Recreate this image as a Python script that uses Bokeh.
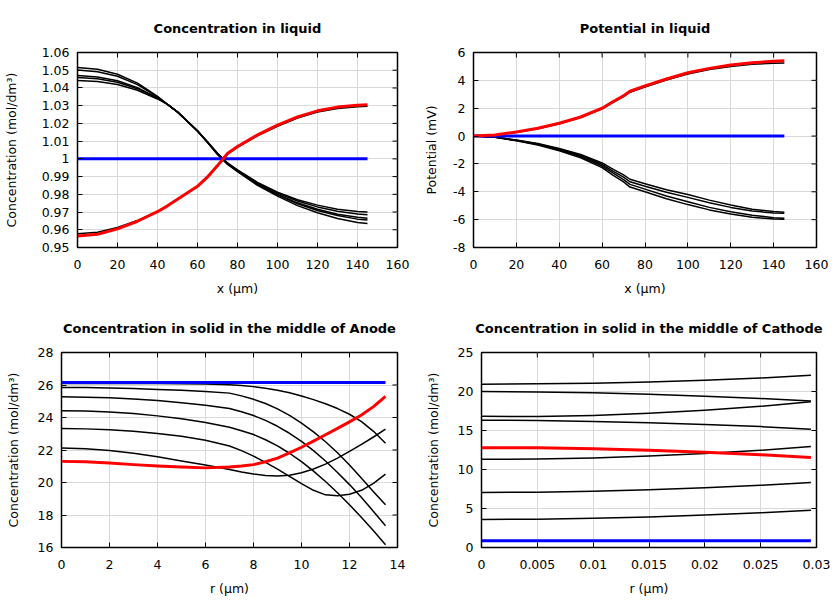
import math
from bokeh.plotting import figure
from bokeh.models import Range1d, FixedTicker, CustomJSTickFormatter
from bokeh.layouts import column, row
from bokeh.embed import file_html
from bokeh.resources import INLINE

FONT = "DejaVu Sans"

# ---------------- Plot 1: Concentration in liquid ----------------
liq_x = [0, 10, 20, 30, 40, 45, 50, 60, 65, 70, 75, 80, 90, 100, 110, 120, 130, 140, 145]
liq_c1 = [1.0515, 1.0505, 1.0477, 1.0427, 1.0353, 1.0307, 1.0264, 1.0156, 1.0092, 1.0025, 0.9969, 0.9928, 0.9850, 0.9790, 0.9736, 0.9696, 0.9664, 0.9641, 0.9635]
liq_c2 = [1.0501, 1.0492, 1.0466, 1.0419, 1.0350, 1.0307, 1.0264, 1.0157, 1.0093, 1.0027, 0.9972, 0.9931, 0.9855, 0.9797, 0.9747, 0.9709, 0.9680, 0.9660, 0.9655]
liq_c3 = [1.0470, 1.0462, 1.0441, 1.0402, 1.0344, 1.0307, 1.0265, 1.0157, 1.0094, 1.0028, 0.9973, 0.9932, 0.9858, 0.9800, 0.9752, 0.9716, 0.9688, 0.9670, 0.9665]
liq_c4 = [1.0459, 1.0452, 1.0432, 1.0396, 1.0342, 1.0307, 1.0265, 1.0158, 1.0095, 1.0030, 0.9975, 0.9935, 0.9863, 0.9807, 0.9762, 0.9729, 0.9704, 0.9689, 0.9685]
liq_c5 = [1.0442, 1.0436, 1.0419, 1.0387, 1.0338, 1.0307, 1.0265, 1.0159, 1.0096, 1.0032, 0.9977, 0.9938, 0.9867, 0.9812, 0.9769, 0.9739, 0.9716, 0.9703, 0.9700]
liq_c6 = [0.9577, 0.9586, 0.9613, 0.9652, 0.9704, 0.9736, 0.9771, 0.9843, 0.9895, 0.9958, 1.0026, 1.0065, 1.0130, 1.0184, 1.0230, 1.0264, 1.0284, 1.0294, 1.0297]
liq_final = [0.9565, 0.9575, 0.9605, 0.9648, 0.9702, 0.9735, 0.9772, 0.9845, 0.9898, 0.9962, 1.0030, 1.0070, 1.0135, 1.0190, 1.0237, 1.0271, 1.0292, 1.0302, 1.0305]
liq_init_x = [0, 145]
liq_init = [1.0, 1.0]
liq_xticks = [0, 20, 40, 60, 80, 100, 120, 140, 160]
liq_yticks = [0.95, 0.96, 0.97, 0.98, 0.99, 1.0, 1.01, 1.02, 1.03, 1.04, 1.05, 1.06]

# ---------------- Plot 2: Potential in liquid ----------------
pot_x = [0, 10, 20, 30, 40, 50, 60, 65, 70, 73, 80, 90, 100, 110, 120, 130, 140, 145]
pot_up = [0, 0.06, 0.28, 0.53, 0.88, 1.33, 1.95, 2.40, 2.84, 3.15, 3.52, 4.02, 4.46, 4.77, 5.00, 5.15, 5.23, 5.25]
pot_a = [0, -0.07, -0.29, -0.54, -0.89, -1.32, -1.93, -2.37, -2.79, -3.10, -3.42, -3.85, -4.20, -4.60, -4.95, -5.25, -5.42, -5.47]
pot_b = [0, -0.07, -0.30, -0.57, -0.94, -1.39, -2.04, -2.51, -2.95, -3.28, -3.60, -4.03, -4.40, -4.78, -5.12, -5.38, -5.52, -5.55]
pot_c = [0, -0.08, -0.32, -0.60, -0.99, -1.47, -2.15, -2.65, -3.12, -3.47, -3.81, -4.30, -4.72, -5.12, -5.43, -5.68, -5.86, -5.90]
pot_d = [0, -0.08, -0.34, -0.64, -1.05, -1.56, -2.27, -2.80, -3.29, -3.66, -4.00, -4.50, -4.92, -5.30, -5.60, -5.82, -5.95, -5.98]
pot_final = [0, 0.07, 0.30, 0.56, 0.92, 1.37, 2.00, 2.46, 2.90, 3.22, 3.60, 4.10, 4.55, 4.86, 5.10, 5.27, 5.37, 5.40]
pot_init_x = [0, 145]
pot_init = [0.0, 0.0]
pot_xticks = [0, 20, 40, 60, 80, 100, 120, 140, 160]
pot_yticks = [-8, -6, -4, -2, 0, 2, 4, 6]

# ---------------- Plot 3: Solid, anode ----------------
an_r = [0, 1, 2, 3, 4, 5, 6, 7, 7.5, 8, 8.5, 9, 9.5, 10, 10.5, 11, 11.5, 12, 12.5, 13, 13.5]
an_k1 = [26.10, 26.10, 26.10, 26.10, 26.09, 26.08, 26.06, 26.02, 25.97, 25.90, 25.80, 25.68, 25.52, 25.32, 25.10, 24.85, 24.55, 24.20, 23.75, 23.15, 22.42]
an_k2 = [25.85, 25.84, 25.82, 25.78, 25.73, 25.67, 25.60, 25.50, 25.33, 25.12, 24.86, 24.53, 24.13, 23.66, 23.12, 22.51, 21.83, 21.08, 20.26, 19.43, 18.63]
an_k3 = [25.27, 25.25, 25.21, 25.14, 25.04, 24.91, 24.75, 24.55, 24.35, 24.12, 23.82, 23.46, 23.03, 22.53, 21.96, 21.32, 20.62, 19.87, 19.07, 18.22, 17.34]
an_k4 = [24.42, 24.40, 24.34, 24.24, 24.10, 23.92, 23.69, 23.40, 23.19, 22.95, 22.63, 22.25, 21.80, 21.28, 20.70, 20.06, 19.37, 18.63, 17.85, 17.03, 16.17]
an_k5 = [23.32, 23.30, 23.24, 23.15, 23.02, 22.85, 22.60, 22.25, 21.96, 21.62, 21.24, 20.82, 20.38, 19.93, 19.52, 19.24, 19.18, 19.28, 19.52, 19.95, 20.52]
an_k6 = [22.12, 22.08, 21.97, 21.80, 21.58, 21.33, 21.07, 20.80, 20.65, 20.52, 20.43, 20.40, 20.45, 20.60, 20.83, 21.13, 21.50, 21.92, 22.35, 22.80, 23.28]
an_final = [21.30, 21.27, 21.20, 21.10, 21.02, 20.95, 20.90, 20.95, 21.01, 21.10, 21.28, 21.50, 21.82, 22.17, 22.55, 22.94, 23.33, 23.73, 24.15, 24.67, 25.30]
an_init_r = [0, 13.5]
an_init = [26.15, 26.15]
an_xticks = [0, 2, 4, 6, 8, 10, 12, 14]
an_yticks = [16, 18, 20, 22, 24, 26, 28]

# ---------------- Plot 4: Solid, cathode ----------------
ca_r = [0, 0.005, 0.01, 0.015, 0.02, 0.025, 0.0295]
ca_k1 = [20.94, 20.98, 21.07, 21.22, 21.44, 21.73, 22.09]
ca_k2 = [19.99, 19.95, 19.84, 19.65, 19.40, 19.10, 18.78]
ca_k3 = [16.82, 16.79, 16.93, 17.20, 17.60, 18.10, 18.68]
ca_k4 = [16.32, 16.28, 16.15, 15.98, 15.77, 15.50, 15.17]
ca_k5 = [11.30, 11.35, 11.48, 11.72, 12.05, 12.46, 12.95]
ca_k6 = [7.05, 7.09, 7.20, 7.39, 7.65, 7.97, 8.33]
ca_k7 = [3.59, 3.63, 3.74, 3.92, 4.17, 4.46, 4.79]
ca_final = [12.80, 12.79, 12.67, 12.46, 12.20, 11.89, 11.54]
ca_init_r = [0, 0.0295]
ca_init = [0.85, 0.85]
ca_xticks = [0, 0.005, 0.01, 0.015, 0.02, 0.025, 0.03]
ca_yticks = [0, 5, 10, 15, 20, 25]

FMT = "return Number(tick.toFixed(6)).toString();"
TICK_LEN = 5


def make_fig(title, xr, yr, xt, yt, xlabel, ylabel, borders, ylab_standoff):
    l, r, t, b = borders
    p = figure(width=420, height=300, x_range=Range1d(*xr), y_range=Range1d(*yr),
               output_backend="svg", toolbar_location=None, tools="",
               min_border_left=l, min_border_right=r, min_border_top=t, min_border_bottom=b)
    p.background_fill_color = "white"
    p.border_fill_color = "white"
    p.outline_line_color = "black"
    p.outline_line_width = 1.5
    p.title.text = title
    p.title.align = "center"
    p.title.text_font = FONT
    p.title.text_font_size = "13px"
    p.title.text_font_style = "bold"
    p.title.text_color = "black"
    p.title.standoff = 34

    xax = p.below[0]
    yax = p.left[0]
    xtick = FixedTicker(ticks=xt)
    ytick = FixedTicker(ticks=yt)
    xax.ticker = xtick
    yax.ticker = ytick
    p.xgrid[0].ticker = xtick
    p.ygrid[0].ticker = ytick
    for g in (p.xgrid[0], p.ygrid[0]):
        g.grid_line_color = "#d9d9d9"
        g.grid_line_width = 1

    for ax in (xax, yax):
        ax.axis_line_color = None
        ax.major_tick_in = TICK_LEN
        ax.major_tick_out = 0
        ax.major_tick_line_color = "black"
        ax.major_tick_line_width = 1
        ax.minor_tick_line_color = None
        ax.formatter = CustomJSTickFormatter(code=FMT)
        ax.major_label_text_font = FONT
        ax.major_label_text_font_size = "12.5px"
        ax.major_label_text_color = "black"
        ax.axis_label_text_font = FONT
        ax.axis_label_text_font_size = "12.5px"
        ax.axis_label_text_font_style = "normal"
        ax.axis_label_text_color = "black"
    xax.axis_label = xlabel
    yax.axis_label = ylabel
    xax.major_label_standoff = 12
    yax.major_label_standoff = 8
    xax.axis_label_standoff = 9
    yax.axis_label_standoff = ylab_standoff

    # mirrored tick marks on the top and right frame edges
    p.ray(x=xt, y=[yr[1]] * len(xt), length=TICK_LEN, length_units="screen",
          angle=-math.pi / 2, line_color="black", line_width=1)
    p.ray(x=[xr[1]] * len(yt), y=yt, length=TICK_LEN, length_units="screen",
          angle=math.pi, line_color="black", line_width=1)
    return p


def draw(p, x, blacks, init_x, init, final):
    for yv in blacks:
        p.line(x, yv, line_color="black", line_width=1.5, line_join="round")
    p.line(init_x, init, line_color="#0000ff", line_width=3)
    p.line(x, final, line_color="#ff0000", line_width=3, line_join="round")


conc_label = "Concentration (mol/dm\u00b3)"

p1 = make_fig("Concentration in liquid", (0, 160), (0.95, 1.06), liq_xticks, liq_yticks,
              "x (\u00b5m)", conc_label, (77, 23, 52, 53), 20)
draw(p1, liq_x, [liq_c1, liq_c2, liq_c3, liq_c4, liq_c5, liq_c6], liq_init_x, liq_init, liq_final)

p2 = make_fig("Potential in liquid", (0, 160), (-8, 6), pot_xticks, pot_yticks,
              "x (\u00b5m)", "Potential (mV)", (53, 24, 52, 53), 11)
draw(p2, pot_x, [pot_up, pot_a, pot_b, pot_c, pot_d], pot_init_x, pot_init, pot_final)

p3 = make_fig("Concentration in solid in the middle of Anode", (0, 14), (16, 28), an_xticks, an_yticks,
              "r (\u00b5m)", conc_label, (61, 23, 52, 53), 14)
draw(p3, an_r, [an_k1, an_k2, an_k3, an_k4, an_k5, an_k6], an_init_r, an_init, an_final)

p4 = make_fig("Concentration in solid in the middle of Cathode", (0, 0.03), (0, 25), ca_xticks, ca_yticks,
              "r (\u00b5m)", conc_label, (61, 24, 52, 53), 14)
draw(p4, ca_r, [ca_k1, ca_k2, ca_k3, ca_k4, ca_k5, ca_k6, ca_k7], ca_init_r, ca_init, ca_final)

layout = column(row(p1, p2), row(p3, p4))
open("out.html", "w").write(file_html(layout, INLINE))
